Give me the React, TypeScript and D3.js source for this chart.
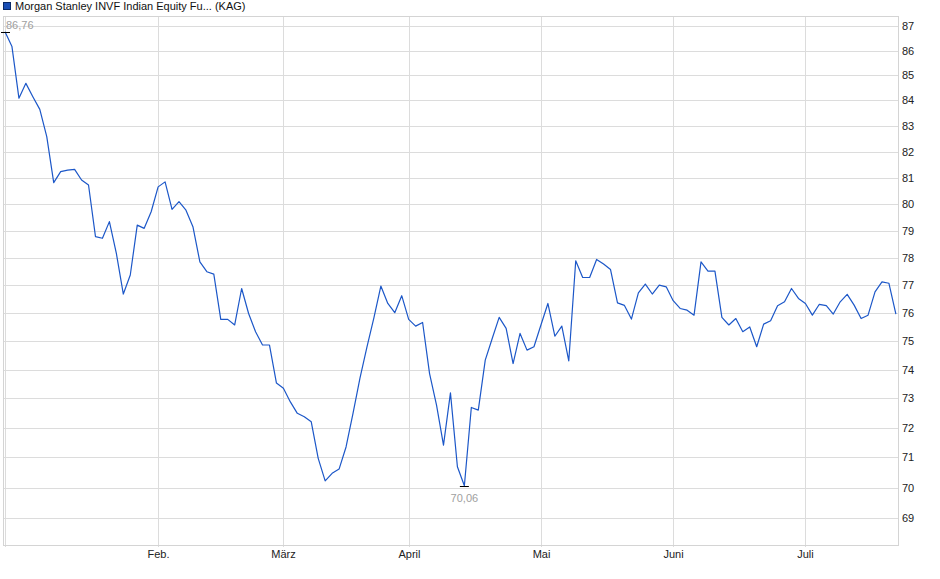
import React, { useEffect, useRef } from 'react';
import * as d3 from 'd3';

// NAV per trading day
const prices: number[] = [
  86.76, 86.16, 84.09, 84.68, 84.15, 83.65, 82.58, 80.81, 81.23, 81.29,
  81.32, 80.91, 80.72, 78.78, 78.72, 79.34, 78.16, 76.68, 77.37, 79.21,
  79.09, 79.71, 80.65, 80.84, 79.80, 80.09, 79.77, 79.15, 77.85, 77.49,
  77.40, 75.77, 75.77, 75.57, 76.88, 75.98, 75.33, 74.86, 74.86, 73.53,
  73.35, 72.88, 72.49, 72.37, 72.20, 70.97, 70.22, 70.47, 70.61, 71.35,
  72.49, 73.70, 74.79, 75.82, 76.97, 76.34, 76.01, 76.62, 75.77, 75.53,
  75.66, 73.86, 72.77, 71.41, 73.19, 70.69, 70.06, 72.69, 72.60, 74.33,
  75.09, 75.84, 75.45, 74.21, 75.27, 74.68, 74.80, 75.57, 76.34, 75.17,
  75.53, 74.30, 77.89, 77.28, 77.28, 77.94, 77.77, 77.57, 76.36, 76.27,
  75.78, 76.72, 77.04, 76.68, 77.00, 76.94, 76.44, 76.16, 76.10, 75.92,
  77.85, 77.51, 77.51, 75.84, 75.57, 75.80, 75.33, 75.50, 74.80, 75.60,
  75.72, 76.26, 76.40, 76.88, 76.52, 76.34, 75.92, 76.31, 76.26, 75.96,
  76.40, 76.67, 76.28, 75.80, 75.92, 76.76, 77.12, 77.07, 75.96
];

// first trading day of each month (index into prices)
const monthIdx: number[] = [0, 22, 40, 58, 77, 96, 115];
const monthLabels: string[] = ['', 'Feb.', 'März', 'April', 'Mai', 'Juni', 'Juli'];

const yTicks: number[] = [69, 70, 71, 72, 73, 74, 75, 76, 77, 78, 79, 80, 81, 82, 83, 84, 85, 86, 87];

const title = 'Morgan Stanley INVF Indian Equity Fu... (KAG)';

const App: React.FC = () => {
  const svgRef = useRef<SVGSVGElement>(null);

  useEffect(() => {
    if (!svgRef.current) return;
    const W = 940, H = 579;
    const plot = { left: 3, right: 898, top: 16, bottom: 545 };
    const font = '"Liberation Sans", Arial, sans-serif';

    const svg = d3.select(svgRef.current);
    svg.selectAll('*').remove();
    svg.attr('width', W).attr('height', H);

    const x = d3.scaleLinear()
      .domain([0, prices.length - 1])
      .range([5, 895.9]);

    const y = d3.scaleLog()
      .domain([68.13, 87.41])
      .range([plot.bottom, plot.top]);

    // Legend / title
    svg.append('rect')
      .attr('x', 3.5).attr('y', 2.5).attr('width', 7).attr('height', 7)
      .attr('fill', '#1a4fb5').attr('stroke', '#0b2a66');
    svg.append('text')
      .attr('x', 15).attr('y', 10)
      .style('font-family', font).style('font-size', '11px')
      .attr('fill', '#111')
      .text(title);

    // Grid
    const grid = svg.append('g').attr('stroke', '#dcdcdc').attr('stroke-width', 1);
    yTicks.forEach(t => {
      const yy = Math.round(y(t)) + 0.5;
      grid.append('line')
        .attr('x1', plot.left).attr('x2', plot.right)
        .attr('y1', yy).attr('y2', yy);
    });
    monthIdx.forEach(i => {
      const xx = Math.round(x(i)) + 0.5;
      grid.append('line')
        .attr('x1', xx).attr('x2', xx)
        .attr('y1', plot.top).attr('y2', plot.bottom + 2);
    });

    // Plot frame
    svg.append('rect')
      .attr('x', plot.left + 0.5).attr('y', plot.top + 0.5)
      .attr('width', plot.right - plot.left).attr('height', plot.bottom - plot.top)
      .attr('fill', 'none').attr('stroke', '#d4d4d4');

    // Y labels (right)
    svg.append('g')
      .selectAll('text')
      .data(yTicks)
      .enter()
      .append('text')
      .attr('x', plot.right + 4)
      .attr('y', d => y(d) + 4)
      .style('font-family', font).style('font-size', '11px')
      .attr('fill', '#222')
      .text(d => String(d));

    // X labels
    svg.append('g')
      .selectAll('text')
      .data(monthIdx.map((m, k) => ({ m, label: monthLabels[k] })).filter(d => d.label))
      .enter()
      .append('text')
      .attr('x', d => Math.round(x(d.m)) + 0.5)
      .attr('y', 558)
      .attr('text-anchor', 'middle')
      .style('font-family', font).style('font-size', '11px')
      .attr('fill', '#222')
      .text(d => d.label);

    // Price line
    const line = d3.line<number>()
      .x((_, i) => x(i))
      .y(d => y(d));

    svg.append('path')
      .datum(prices)
      .attr('fill', 'none')
      .attr('stroke', '#1c57c8')
      .attr('stroke-width', 1.2)
      .attr('stroke-linejoin', 'round')
      .attr('d', line);

    // High / low markers
    const fmt = (v: number) => v.toFixed(2).replace('.', ',');
    const maxI = d3.maxIndex(prices);
    const minI = d3.minIndex(prices);

    const hx = x(maxI), hy = Math.round(y(prices[maxI])) + 0.5;
    svg.append('line')
      .attr('x1', hx - 4).attr('x2', hx + 5).attr('y1', hy).attr('y2', hy)
      .attr('stroke', '#000');
    svg.append('text')
      .attr('x', hx + 1).attr('y', hy - 4)
      .style('font-family', font).style('font-size', '11px')
      .attr('fill', '#a0a0a0')
      .text(fmt(prices[maxI]));

    const lx = x(minI), ly = Math.round(y(prices[minI])) + 0.5;
    svg.append('line')
      .attr('x1', lx - 4.5).attr('x2', lx + 4.5).attr('y1', ly).attr('y2', ly)
      .attr('stroke', '#000');
    svg.append('text')
      .attr('x', lx).attr('y', ly + 15)
      .attr('text-anchor', 'middle')
      .style('font-family', font).style('font-size', '11px')
      .attr('fill', '#a0a0a0')
      .text(fmt(prices[minI]));
  }, []);

  return (
    <svg ref={svgRef} style={{ position: 'absolute', left: 0, top: 0, background: '#fff' }}></svg>
  );
};

export default App;
